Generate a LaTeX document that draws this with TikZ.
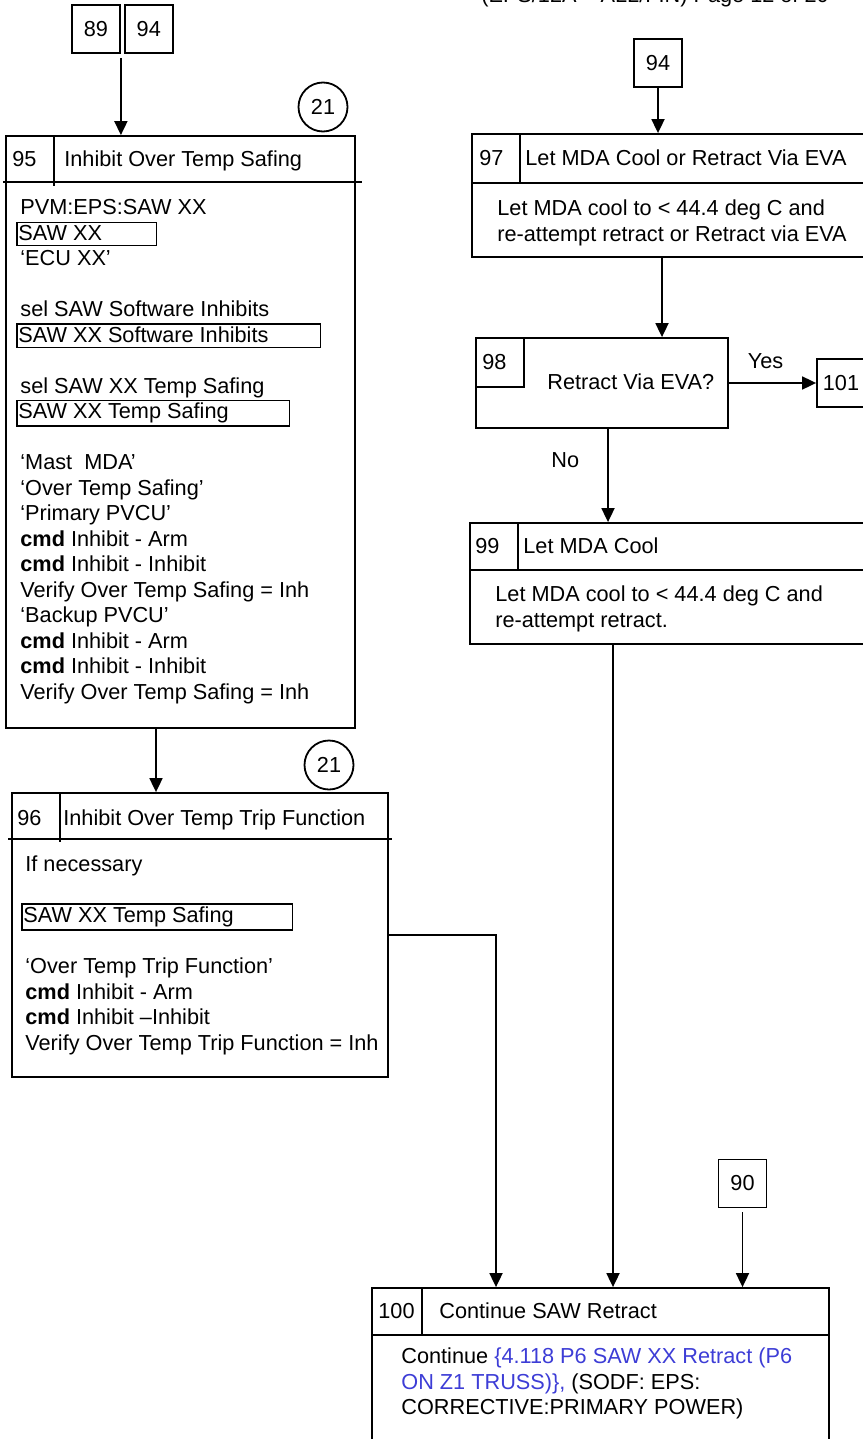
\documentclass[tikz,border=0pt]{standalone}
\usepackage{fontspec}
\setmainfont{Liberation Sans}
\usetikzlibrary{arrows.meta,positioning,fit}
\definecolor{linkblue}{RGB}{61,61,214}
\tikzset{
  stepbox/.style={draw, line width=0.9pt, inner sep=0pt},
  refbox/.style={draw, line width=0.9pt, minimum width=24pt, minimum height=24pt, inner sep=0pt},
  pagecirc/.style={draw, circle, line width=0.9pt, minimum size=24.5pt, inner sep=0pt},
  txt/.style={inner sep=0pt, anchor=base west},
  bodytxt/.style={inner sep=0pt, anchor=north west, align=left},
  lbl/.style={inner sep=1pt},
  divline/.style={line width=0.9pt},
  flow/.style={-{Triangle[length=7pt,width=6.5pt]}, line width=0.9pt}
}
\setlength{\fboxsep}{1pt}
\setlength{\fboxrule}{0.8pt}
\newcommand{\panel}[2]{\hspace*{-2pt}\framebox[#1][l]{\rule[-1.1pt]{0pt}{8.7pt}#2}}

\begin{document}
\begin{tikzpicture}[x=0.5pt, y=-0.5pt, font=\fontsize{10.85}{12.75}\selectfont]
\useasboundingbox (0,0) rectangle (862,1439);

% page header, cut at the top edge
\node[txt, anchor=base] (pg) at (655,3) {(EPS/12A – ALL/FIN) Page 12 of 20};

% off-page references
\node[refbox] (r89) at (96,29) {89};
\node[refbox, right=1.5pt of r89] (r94a) {94};
\node[refbox] (r94b) at (658,63) {94};
\node[refbox] (r101) at (841,383) {101};
\node[refbox] (r90) at (742.5,1183.5) {90};

\node[pagecirc] (c95) at (323,107) {21};
\node[pagecirc] (c96) at (329,765) {21};

% step 95
\node[stepbox, fit={(6,136) (355,728)}] (b95) {};
\draw[divline] (3,182) -- (362,182) (54,136) -- (54,186);
\node[txt] (n95) at (12,166.6) {95};
\node[txt] (t95) at (64,166.6) {Inhibit Over Temp Safing};
\node[bodytxt] (d95) at (20,199.4) {PVM:EPS:SAW XX\\
\panel{70.5pt}{SAW XX}\\
‘ECU XX’\\
\mbox{}\\
sel SAW Software Inhibits\\
\panel{152.5pt}{SAW XX Software Inhibits}\\
\mbox{}\\
sel SAW XX Temp Safing\\
\panel{137pt}{SAW XX Temp Safing}\\
\mbox{}\\
‘Mast\ \ MDA’\\
‘Over Temp Safing’\\
‘Primary PVCU’\\
\textbf{cmd} Inhibit - Arm\\
\textbf{cmd} Inhibit - Inhibit\\
Verify Over Temp Safing = Inh\\
‘Backup PVCU’\\
\textbf{cmd} Inhibit - Arm\\
\textbf{cmd} Inhibit - Inhibit\\
Verify Over Temp Safing = Inh};

% step 96
\node[stepbox, fit={(12,793) (388,1077)}] (b96) {};
\draw[divline] (8,839) -- (392,839) (60,793) -- (60,842);
\node[txt] (n96) at (17,825.6) {96};
\node[txt] (t96) at (63,825.6) {Inhibit Over Temp Trip Function};
\node[bodytxt] (d96) at (25,855.4) {If necessary\\
\mbox{}\\
\panel{136pt}{SAW XX Temp Safing}\\
\mbox{}\\
‘Over Temp Trip Function’\\
\textbf{cmd} Inhibit - Arm\\
\textbf{cmd} Inhibit –Inhibit\\
Verify Over Temp Trip Function = Inh};

% step 97
\node[stepbox, fit={(472,134) (864,257)}] (b97) {};
\draw[divline] (472,183) -- (864,183) (520,134) -- (520,183);
\node[txt] (n97) at (479,165.6) {97};
\node[txt] (t97) at (525,165.6) {Let MDA Cool or Retract Via EVA};
\node[bodytxt] (d97) at (497,199.4) {Let MDA cool to < 44.4 deg C and\\
re-attempt retract or Retract via EVA};

% step 98 (decision)
\node[stepbox, fit={(476,338) (728,428)}] (b98) {};
\draw[divline] (476,387) -- (524,387) -- (524,338);
\node[txt] (n98) at (482,369.6) {98};
\node[txt] (q98) at (547,389.6) {Retract Via EVA?};

% step 99
\node[stepbox, fit={(470,523) (864,644)}] (b99) {};
\draw[divline] (470,570) -- (864,570) (518,523) -- (518,570);
\node[txt] (n99) at (475,553.6) {99};
\node[txt] (t99) at (523,553.6) {Let MDA Cool};
\node[bodytxt] (d99) at (495,585.4) {Let MDA cool to < 44.4 deg C and\\
re-attempt retract.};

% step 100
\node[stepbox, fit={(372,1288) (829,1460)}] (b100) {};
\draw[divline] (372,1335) -- (829,1335) (422,1288) -- (422,1335);
\node[txt] (n100) at (378,1318.6) {100};
\node[txt] (t100) at (439,1318.6) {Continue SAW Retract};
\node[bodytxt] (d100) at (401,1347.4) {Continue \textcolor{linkblue}{\{4.118 P6 SAW XX Retract (P6}\\
\textcolor{linkblue}{ON Z1 TRUSS)\},} (SODF: EPS:\\
CORRECTIVE:PRIMARY POWER)};

% connectors
\draw[flow, shorten <=2pt] (r89.south east) -- (r89.south east |- b95.north);
\draw[flow] ([xshift=-12.25pt]b95.south) -- ([xshift=-22pt]b96.north);
\draw[flow] (r94b.south) -- (r94b.south |- b97.north);
\draw[flow] ([xshift=-3pt]b97.south) -- ([xshift=30pt]b98.north);
\draw[flow] (b98.east) -- node[lbl, above=5.5pt, pos=0.42] (yes) {Yes} (r101);
\draw[flow] ([xshift=3pt]b98.south) -- node[lbl, left=13pt, pos=0.34] (no) {No} ([xshift=-29.5pt]b99.north);
\draw[flow] ([xshift=-27pt]b99.south) -- ([xshift=6.25pt]b100.north);
\draw[flow] (b96.east) -| ([xshift=-52.25pt]b100.north);
\draw[flow, shorten <=2pt] (r90.south) -- (r90.south |- b100.north);
\end{tikzpicture}
\end{document}
